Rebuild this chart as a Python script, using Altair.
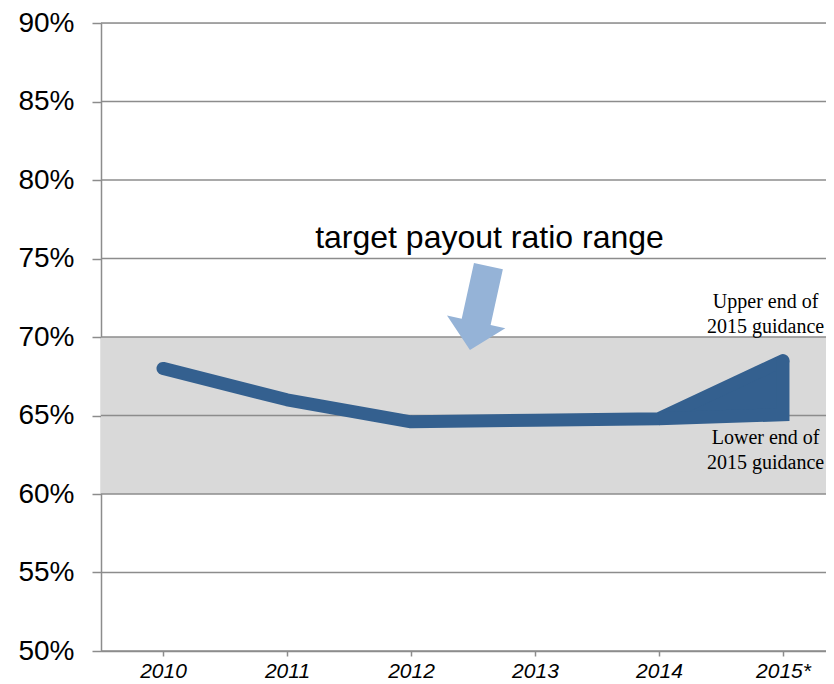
import json
import altair as alt
import pandas as pd

# ---- data ----
years = ["2010", "2011", "2012", "2013", "2014", "2015*"]
payout = [0.680, 0.660, 0.646, 0.647, 0.648]   # 2010 - 2014 actual payout ratio
guid_upper = 0.685                               # 2015 guidance, upper end
guid_lower = 0.6505                              # 2015 guidance, lower end
band_low, band_high = 0.60, 0.70                 # target payout ratio range
y_ticks = [0.50, 0.55, 0.60, 0.65, 0.70, 0.75, 0.80, 0.85, 0.90]

BLUE = "#34608f"
GRID = "#8c8c8c"

idx = list(range(len(years)))
main_df = pd.DataFrame({"i": idx, "v": payout + [guid_upper], "o": idx})
wedge_df = pd.DataFrame({"i": [5, 5, 4], "v": [guid_upper, guid_lower, payout[4]], "o": [0, 1, 2]})
area_df = pd.DataFrame({"i": [4, 5], "hi": [payout[4], guid_upper], "lo": [payout[4], guid_lower]})
band_df = pd.DataFrame({"lo": [band_low], "hi": [band_high]})
grid_df = pd.DataFrame({"v": y_ticks})

ann_main = pd.DataFrame({"i": [2.633], "v": [0.7565], "t": ["target payout ratio range"]})
ann_arrow = pd.DataFrame({"i": [2.55], "v": [0.7184]})
ann_guid = pd.DataFrame({"i": [4.86, 4.86], "v": [0.7184, 0.6321],
                         "t": ["Upper end of\n2015 guidance", "Lower end of\n2015 guidance"]})

xscale = alt.Scale(domain=[-0.5, 5.347], nice=False, zero=False)
yscale = alt.Scale(domain=[0.5, 0.9], nice=False, zero=False)

label_expr = json.dumps(years) + "[datum.value]"

x_axis = alt.Axis(values=idx, labelExpr=label_expr, title=None, grid=False,
                  labelFont="Liberation Sans", labelFontStyle="italic", labelFontSize=21,
                  labelColor="black", tickColor=GRID, tickSize=5, tickWidth=1.5,
                  domainColor=GRID, domainWidth=1.5, labelPadding=4)
y_axis = alt.Axis(values=y_ticks, format=".0%", title=None, grid=False,
                  labelFont="Liberation Sans", labelFontSize=28, labelColor="black",
                  tickColor=GRID, tickSize=9, tickWidth=1.5, domainColor=GRID,
                  domainWidth=1.5, labelPadding=18)

band = alt.Chart(band_df).mark_rect(color="#d9d9d9").encode(
    y=alt.Y("lo:Q", scale=yscale, axis=y_axis), y2="hi:Q")

grid = alt.Chart(grid_df).mark_rule(color=GRID, strokeWidth=1.5).encode(
    y=alt.Y("v:Q", scale=yscale))

area = alt.Chart(area_df).mark_area(color=BLUE, opacity=1).encode(
    x=alt.X("i:Q", scale=xscale, axis=x_axis),
    y=alt.Y("hi:Q", scale=yscale), y2="lo:Q")

main_line = alt.Chart(main_df).mark_line(color=BLUE, strokeWidth=13, strokeCap="round",
                                         strokeJoin="round").encode(
    x=alt.X("i:Q", scale=xscale), y=alt.Y("v:Q", scale=yscale), order="o:Q")

wedge_line = alt.Chart(wedge_df).mark_line(color=BLUE, strokeWidth=13, strokeCap="butt",
                                           strokeJoin="miter", strokeMiterLimit=10).encode(
    x=alt.X("i:Q", scale=xscale), y=alt.Y("v:Q", scale=yscale), order="o:Q")

arrow_path = "M -0.344 -1 L 0.344 -1 L 0.344 0.328 L 0.694 0.328 L 0 1 L -0.694 0.328 L -0.344 0.328 Z"
arrow = alt.Chart(ann_arrow).mark_point(shape=arrow_path, size=7396, angle=12.4, filled=True,
                                        color="#95b3d7", opacity=1, strokeWidth=0).encode(
    x=alt.X("i:Q", scale=xscale), y=alt.Y("v:Q", scale=yscale))

main_text = alt.Chart(ann_main).mark_text(font="Liberation Sans", fontSize=32, color="black",
                                          align="center", baseline="alphabetic").encode(
    x=alt.X("i:Q", scale=xscale), y=alt.Y("v:Q", scale=yscale), text="t:N")

guid_text = alt.Chart(ann_guid).mark_text(font="Liberation Serif", fontSize=20, color="black",
                                          align="center", baseline="alphabetic",
                                          lineBreak="\n", lineHeight=25).encode(
    x=alt.X("i:Q", scale=xscale), y=alt.Y("v:Q", scale=yscale), text="t:N")

chart = alt.layer(band, grid, area, main_line, wedge_line, arrow, main_text, guid_text).properties(
    width=725, height=628,
    autosize=alt.AutoSizeParams(type="none"),
    padding={"left": 93, "top": 15, "right": 0, "bottom": 33},
).configure_view(stroke=None).configure(background="white")

chart.save("out.html", embed_options={"renderer": "svg", "actions": False})
